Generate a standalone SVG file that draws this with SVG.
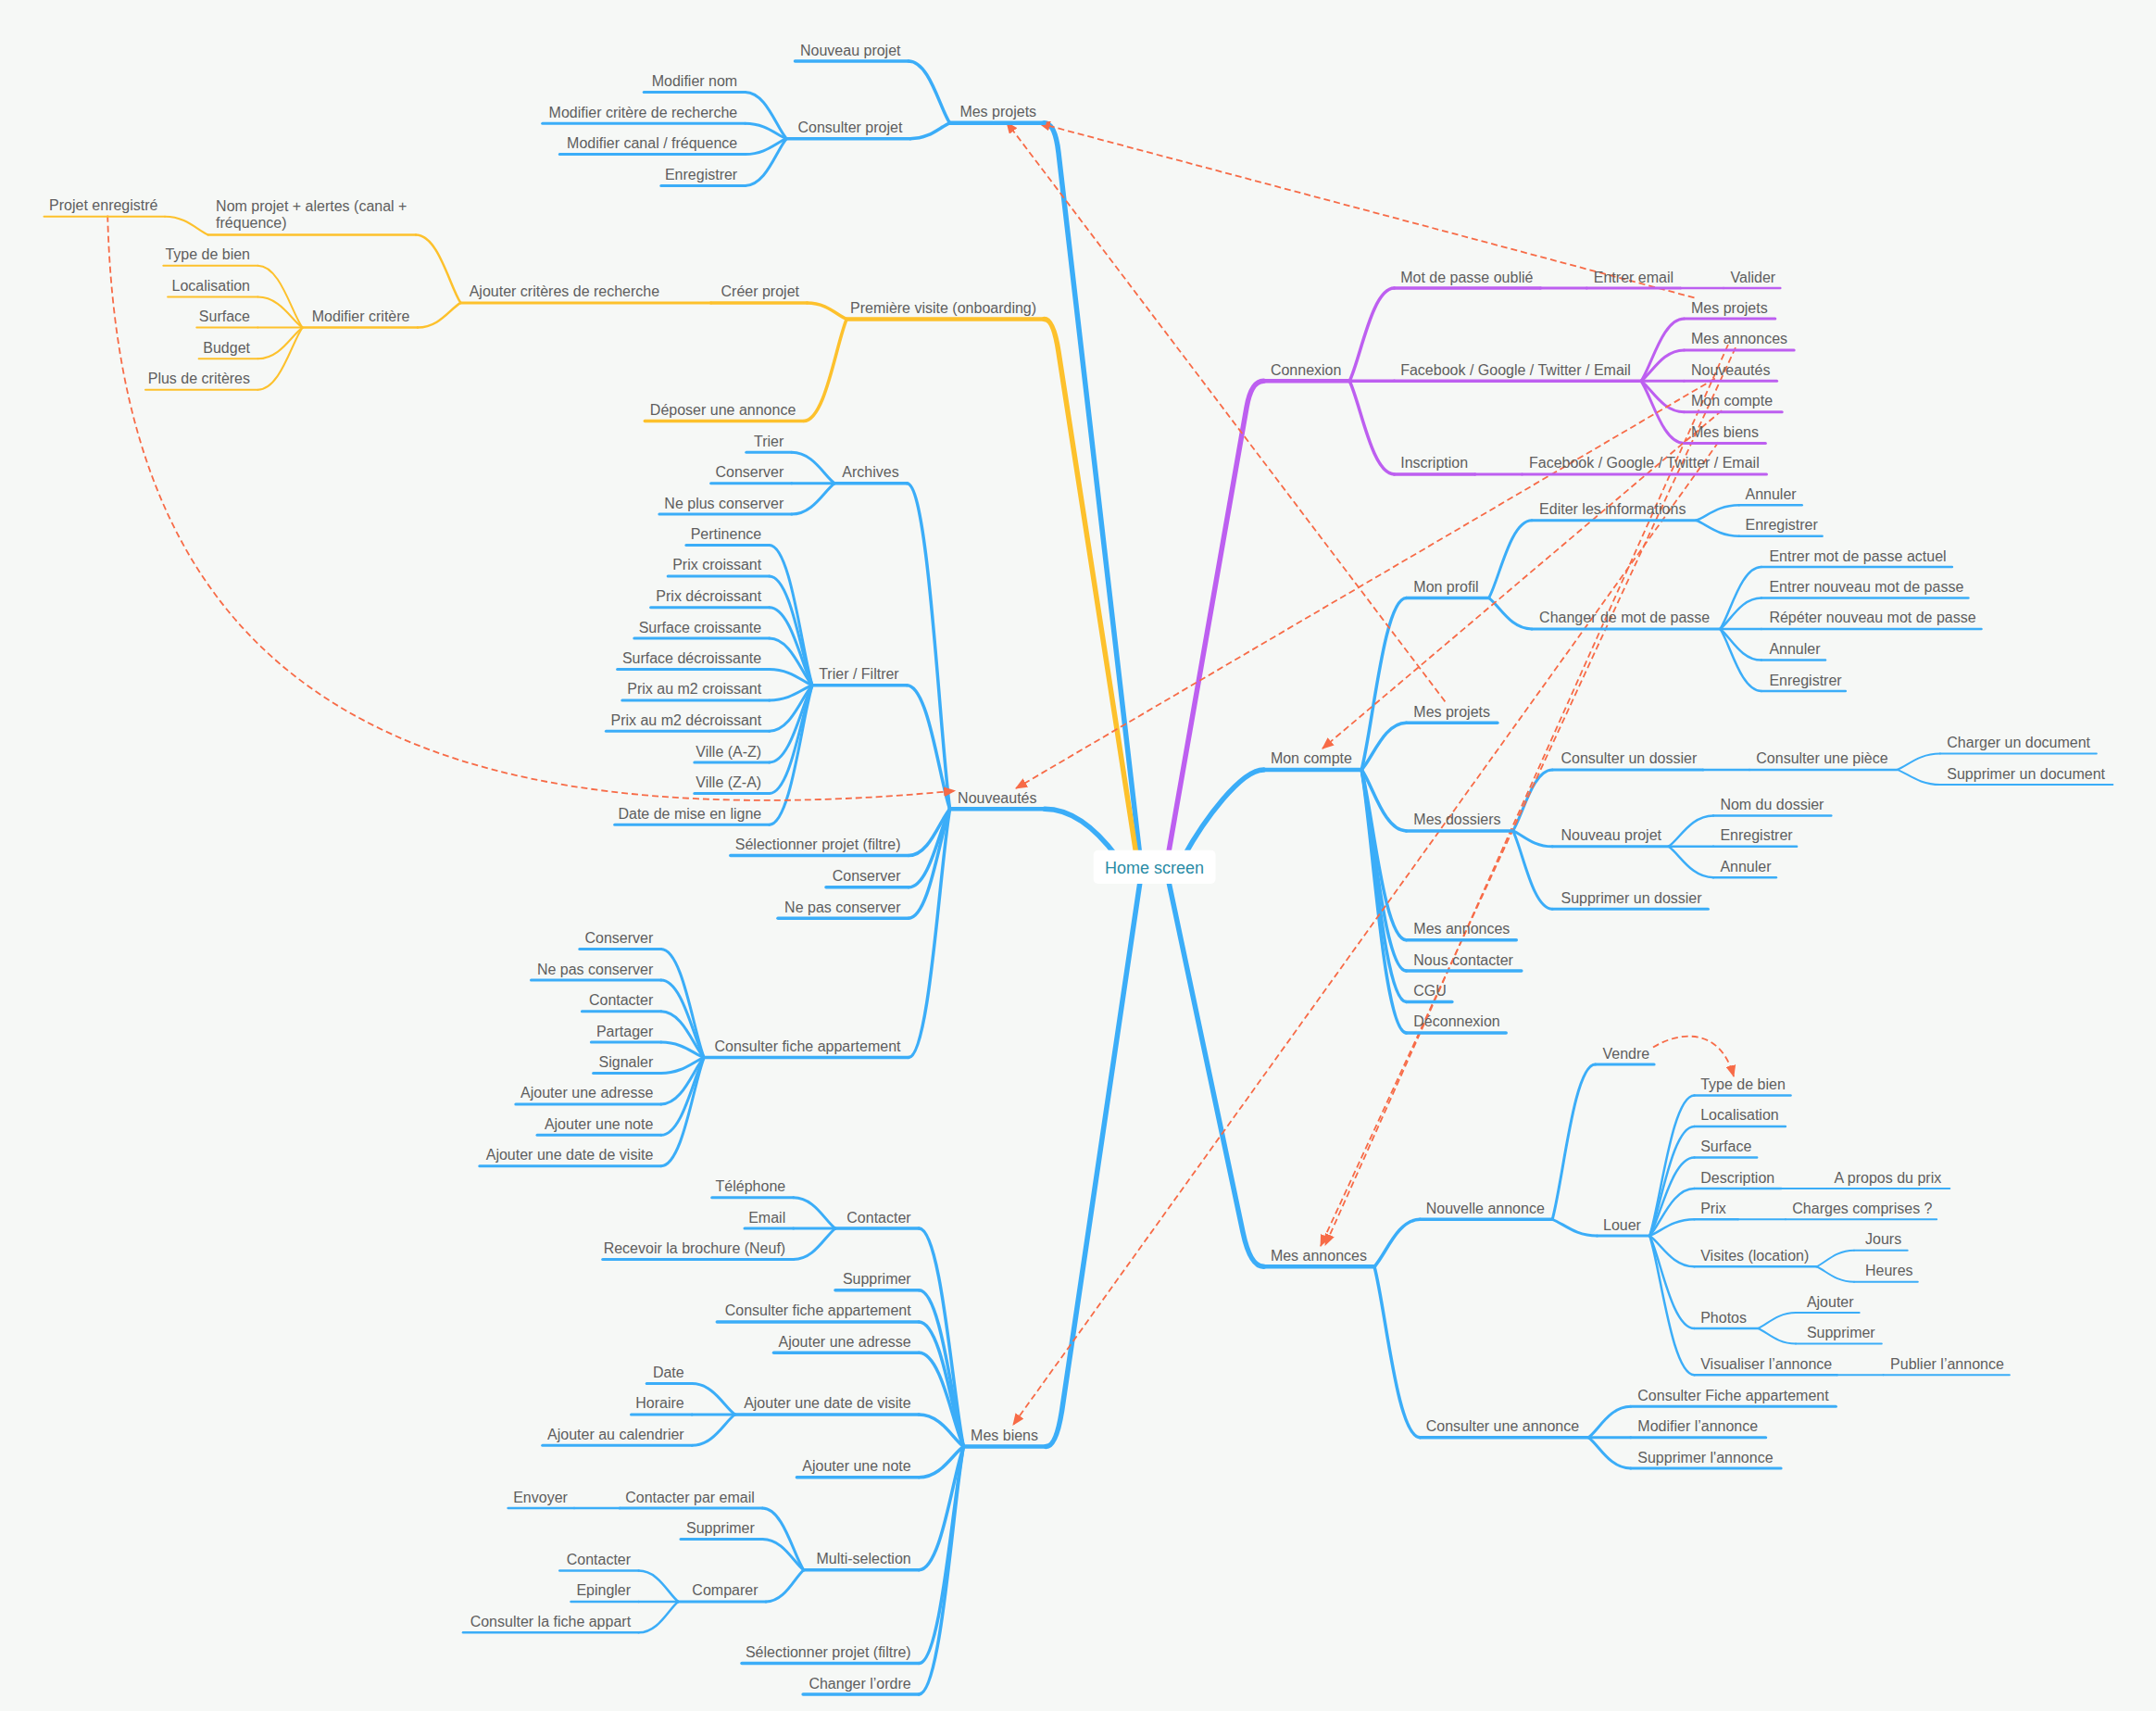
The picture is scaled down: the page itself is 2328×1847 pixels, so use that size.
<svg xmlns="http://www.w3.org/2000/svg" width="2328" height="1847" viewBox="0 0 2328 1847">
<style>
.t{font-family:"Liberation Sans",Arial,sans-serif;font-size:16px;fill:#5e5e5e}
.e{text-anchor:end}
.b,.y,.p{fill:none;stroke-linecap:round}
.b{stroke:#3badf8}.y{stroke:#fdc12c}.p{stroke:#bd5ff0}
.w0{stroke-width:5.5}.w1{stroke-width:4.5}.w2{stroke-width:3.5}.w3{stroke-width:3}.w4{stroke-width:2.5}.w5{stroke-width:2}
.d{fill:none;stroke:#f76b47;stroke-width:1.8;stroke-dasharray:7 4}
.root{font-family:"Liberation Sans",Arial,sans-serif;font-size:18px;fill:#2a8ca6;text-anchor:middle}
</style>
<defs>
<marker id="ah" viewBox="0 0 12 10" refX="11" refY="5" markerWidth="13" markerHeight="11" markerUnits="userSpaceOnUse" orient="auto"><path d="M0,0 L12,5 L0,10 z" fill="#f76b47"/></marker>
</defs>
<rect width="2328" height="1847" fill="#f6f8f6"/>

<g id="connectors">
<!-- root branches -->
<path class="b w0" d="M 1127.6 132.8 Q 1139.3 132.8 1143 165 L 1231 925"/>
<path class="y w0" d="M 1127.6 344.5 Q 1137.6 344.5 1143 380 L 1227.3 925"/>
<path class="b w0" d="M 1128 873.3 C 1155 873.3 1180 890 1206 925"/>
<path class="b w0" d="M 1129.5 1561.5 Q 1140.9 1561.5 1147 1520 L 1232 945"/>
<path class="p w0" d="M 1364.4 411.3 Q 1351 411.3 1346 440 L 1261 925"/>
<path class="b w0" d="M 1364.4 830.9 C 1340 830.9 1300 885 1278 925"/>
<path class="b w0" d="M 1364.4 1367.3 Q 1349.9 1367.3 1342 1330 L 1260.5 945"/>

<!-- Mes projets -->
<path class="b w2" d="M 981 66 C 1003.3 66 1014.5 116.1 1025.6 132.8"/>
<path class="b w2" d="M 982.9 149.7 C 1004.2 149.7 1014.9 137 1025.6 132.8"/>
<path class="b w3" d="M 804.7 99.4 C 827 99.4 838.1 137.1 849.3 149.7"/>
<path class="b w3" d="M 804.7 133.2 C 827 133.2 838.1 145.6 849.3 149.7"/>
<path class="b w3" d="M 804.7 166.6 C 827 166.6 838.1 153.9 849.3 149.7"/>
<path class="b w3" d="M 804.7 200.4 C 827 200.4 838.1 162.4 849.3 149.7"/>

<!-- Premiere visite -->
<path class="y w2" d="M 871.5 326.9 C 892.9 326.9 903.5 340.1 914.2 344.5"/>
<path class="y w2" d="M 867.8 454.5 C 891 454.5 902.6 372 914.2 344.5"/>
<path class="y w4" d="M 449 253.4 C 473.2 253.4 485.3 308.5 497.4 326.9"/>
<path class="y w4" d="M 451 353.6 C 474.2 353.6 485.8 333.6 497.4 326.9"/>
<path class="y w5" d="M 178 233.7 C 201.3 233.7 212.9 248.5 224.6 253.4"/>
<path class="y w5" d="M 278.4 286.8 C 302.5 286.8 314.55 336.9 326.6 353.6"/>
<path class="y w5" d="M 278.4 320.6 C 302.5 320.6 314.55 345.35 326.6 353.6"/>
<path class="y w5" d="M 278.4 353.6 L 326.6 353.6"/>
<path class="y w5" d="M 278.4 387.3 C 302.5 387.3 314.55 362 326.6 353.6"/>
<path class="y w5" d="M 278.4 420.7 C 302.5 420.7 314.55 370.4 326.6 353.6"/>

<!-- Nouveautes -->
<path class="b w2" d="M 979.2 521.7 C 1002.4 521.7 1014 785.4 1025.6 873.3"/>
<path class="b w2" d="M 979.2 739.7 C 1002.4 739.7 1014 839.9 1025.6 873.3"/>
<path class="b w2" d="M 981 923.6 C 1003.3 923.6 1014.45 885.9 1025.6 873.3"/>
<path class="b w2" d="M 981 957.8 C 1003.3 957.8 1014.45 894.4 1025.6 873.3"/>
<path class="b w2" d="M 981 991.2 C 1003.3 991.2 1014.45 902.8 1025.6 873.3"/>
<path class="b w2" d="M 981 1141.6 C 1003.3 1141.6 1014.45 940.4 1025.6 873.3"/>
<path class="b w3" d="M 854.8 488.3 C 878 488.3 889.6 513.35 901.2 521.7"/>
<path class="b w3" d="M 854.8 521.7 L 901.2 521.7"/>
<path class="b w3" d="M 854.8 555.1 C 878 555.1 889.6 530.05 901.2 521.7"/>
<path class="b w3" d="M 830.7 588.5 C 853.9 588.5 865.5 701.9 877.1 739.7"/>
<path class="b w3" d="M 830.7 621.9 C 853.9 621.9 865.5 710.25 877.1 739.7"/>
<path class="b w3" d="M 830.7 655.7 C 853.9 655.7 865.5 718.7 877.1 739.7"/>
<path class="b w3" d="M 830.7 689 C 853.9 689 865.5 727 877.1 739.7"/>
<path class="b w3" d="M 830.7 722.5 C 853.9 722.5 865.5 735.4 877.1 739.7"/>
<path class="b w3" d="M 830.7 755.9 C 853.9 755.9 865.5 743.75 877.1 739.7"/>
<path class="b w3" d="M 830.7 789.2 C 853.9 789.2 865.5 752.1 877.1 739.7"/>
<path class="b w3" d="M 830.7 823 C 853.9 823 865.5 760.5 877.1 739.7"/>
<path class="b w3" d="M 830.7 856.4 C 853.9 856.4 865.5 768.9 877.1 739.7"/>
<path class="b w3" d="M 830.7 890.2 C 853.9 890.2 865.5 777.3 877.1 739.7"/>
<path class="b w3" d="M 713.8 1024.6 C 737 1024.6 748.6 1112.35 760.2 1141.6"/>
<path class="b w3" d="M 713.8 1058 C 737 1058 748.6 1120.7 760.2 1141.6"/>
<path class="b w3" d="M 713.8 1091.7 C 737 1091.7 748.6 1129.1 760.2 1141.6"/>
<path class="b w3" d="M 713.8 1125.1 C 737 1125.1 748.6 1137.5 760.2 1141.6"/>
<path class="b w3" d="M 713.8 1158.5 C 737 1158.5 748.6 1145.8 760.2 1141.6"/>
<path class="b w3" d="M 713.8 1191.9 C 737 1191.9 748.6 1154.2 760.2 1141.6"/>
<path class="b w3" d="M 713.8 1225.3 C 737 1225.3 748.6 1162.5 760.2 1141.6"/>
<path class="b w3" d="M 713.8 1258.7 C 737 1258.7 748.6 1170.9 760.2 1141.6"/>

<!-- Mes biens -->
<path class="b w2" d="M 992.2 1326.1 C 1016.3 1326.1 1028.35 1502.65 1040.4 1561.5"/>
<path class="b w2" d="M 992.2 1392.8 C 1016.3 1392.8 1028.35 1519.3 1040.4 1561.5"/>
<path class="b w2" d="M 992.2 1426.9 C 1016.3 1426.9 1028.35 1527.85 1040.4 1561.5"/>
<path class="b w2" d="M 992.2 1460.3 C 1016.3 1460.3 1028.35 1536.2 1040.4 1561.5"/>
<path class="b w2" d="M 992.2 1526.9 C 1016.3 1526.9 1028.35 1552.85 1040.4 1561.5"/>
<path class="b w2" d="M 992.2 1594.8 C 1016.3 1594.8 1028.35 1569.8 1040.4 1561.5"/>
<path class="b w2" d="M 992.2 1694.8 C 1016.3 1694.8 1028.35 1594.8 1040.4 1561.5"/>
<path class="b w2" d="M 992.2 1795.6 C 1016.3 1795.6 1028.35 1620 1040.4 1561.5"/>
<path class="b w2" d="M 992.2 1829 C 1016.3 1829 1028.35 1628.4 1040.4 1561.5"/>
<path class="b w3" d="M 856.7 1292.8 C 879.35 1292.8 890.7 1317.8 902 1326.1"/>
<path class="b w3" d="M 856.7 1326.1 L 902 1326.1"/>
<path class="b w3" d="M 856.7 1359.5 C 879.35 1359.5 890.7 1334.45 902 1326.1"/>
<path class="b w3" d="M 747.2 1493.6 C 770.4 1493.6 782 1518.6 793.6 1526.9"/>
<path class="b w3" d="M 747.2 1526.9 L 793.6 1526.9"/>
<path class="b w3" d="M 747.2 1560.3 C 770.4 1560.3 782 1535.25 793.6 1526.9"/>
<path class="b w3" d="M 823.3 1628.1 C 845.55 1628.1 856.7 1678.1 867.8 1694.8"/>
<path class="b w3" d="M 823.3 1661.5 C 845.55 1661.5 856.7 1686.5 867.8 1694.8"/>
<path class="b w3" d="M 827 1728.9 C 847.4 1728.9 857.6 1703.3 867.8 1694.8"/>
<path class="b w4" d="M 689.6 1695.6 C 711 1695.6 721.6 1720.6 732.3 1728.9"/>
<path class="b w4" d="M 689.6 1728.9 L 732.3 1728.9"/>
<path class="b w4" d="M 689.6 1762.3 C 711 1762.3 721.6 1737.25 732.3 1728.9"/>
<path class="b w4" d="M 620 1628.1 L 669.2 1628.1"/>

<!-- Connexion -->
<path class="p w2" d="M 1457.2 411.3 C 1469.3 386.25 1481.35 311.1 1505.5 311.1"/>
<path class="p w2" d="M 1457.2 411.3 L 1505.5 411.3"/>
<path class="p w2" d="M 1457.2 411.3 C 1469.3 436.45 1481.35 511.9 1505.5 511.9"/>
<path class="p w3" d="M 1663.3 311.1 L 1713.3 311.1"/>
<path class="p w4" d="M 1814.5 311.1 L 1861 311.1"/>
<path class="p w3" d="M 1592.7 511.9 L 1643.5 511.9"/>
<path class="p w3" d="M 1772 411.3 C 1783.6 394.5 1795.2 344.1 1818.4 344.1"/>
<path class="p w3" d="M 1772 411.3 C 1783.6 402.95 1795.2 377.9 1818.4 377.9"/>
<path class="p w3" d="M 1772 411.3 L 1818.4 411.3"/>
<path class="p w3" d="M 1772 411.3 C 1783.6 419.65 1795.2 444.7 1818.4 444.7"/>
<path class="p w3" d="M 1772 411.3 C 1783.6 428.1 1795.2 478.5 1818.4 478.5"/>

<!-- Mon compte -->
<path class="b w2" d="M 1470.2 830.9 C 1482.3 784.55 1494.35 645.5 1518.5 645.5"/>
<path class="b w2" d="M 1470.2 830.9 C 1482.3 818.2 1494.35 780.2 1518.5 780.2"/>
<path class="b w2" d="M 1470.2 830.9 C 1482.3 847.4 1494.35 896.9 1518.5 896.9"/>
<path class="b w2" d="M 1470.2 830.9 C 1482.3 876.85 1494.35 1014.7 1518.5 1014.7"/>
<path class="b w2" d="M 1470.2 830.9 C 1482.3 885.2 1494.35 1048.1 1518.5 1048.1"/>
<path class="b w2" d="M 1470.2 830.9 C 1482.3 893.55 1494.35 1081.5 1518.5 1081.5"/>
<path class="b w2" d="M 1470.2 830.9 C 1482.3 901.9 1494.35 1114.9 1518.5 1114.9"/>
<path class="b w3" d="M 1607.6 645.5 C 1619.2 624.6 1630.8 561.8 1654 561.8"/>
<path class="b w3" d="M 1607.6 645.5 C 1619.2 653.85 1630.8 678.9 1654 678.9"/>
<path class="b w4" d="M 1831.4 561.8 C 1843 557.7 1854.6 545.3 1877.8 545.3"/>
<path class="b w4" d="M 1831.4 561.8 C 1843 566 1854.6 578.7 1877.8 578.7"/>
<path class="b w4" d="M 1857.4 678.9 C 1868.5 662.2 1879.65 612.1 1901.9 612.1"/>
<path class="b w4" d="M 1857.4 678.9 C 1868.5 670.55 1879.65 645.5 1901.9 645.5"/>
<path class="b w4" d="M 1857.4 678.9 L 1901.9 678.9"/>
<path class="b w4" d="M 1857.4 678.9 C 1868.5 687.3 1879.65 712.6 1901.9 712.6"/>
<path class="b w4" d="M 1857.4 678.9 C 1868.5 695.7 1879.65 746 1901.9 746"/>
<path class="b w3" d="M 1633.6 896.9 C 1644.25 880.4 1654.9 830.9 1676.2 830.9"/>
<path class="b w3" d="M 1633.6 896.9 C 1644.25 901.1 1654.9 913.8 1676.2 913.8"/>
<path class="b w3" d="M 1633.6 896.9 C 1644.25 918 1654.9 981.3 1676.2 981.3"/>
<path class="b w4" d="M 1838.8 830.9 L 1889 830.9"/>
<path class="b w5" d="M 2048.5 830.9 C 2060.1 826.6 2071.7 813.6 2094.9 813.6"/>
<path class="b w5" d="M 2048.5 830.9 C 2060.1 834.9 2071.7 847 2094.9 847"/>
<path class="b w4" d="M 1801.7 913.8 C 1813.8 905.45 1825.85 880.4 1850 880.4"/>
<path class="b w4" d="M 1801.7 913.8 L 1850 913.8"/>
<path class="b w4" d="M 1801.7 913.8 C 1813.8 922.15 1825.85 947.2 1850 947.2"/>

<!-- Mes annonces -->
<path class="b w2" d="M 1484 1367.3 C 1496.3 1354.55 1508.65 1316.3 1533.3 1316.3"/>
<path class="b w2" d="M 1484 1367.3 C 1496.3 1413.4 1508.65 1551.7 1533.3 1551.7"/>
<path class="b w3" d="M 1676.2 1316.3 C 1687.8 1274.5 1699.4 1149.1 1722.6 1149.1"/>
<path class="b w3" d="M 1676.2 1316.3 C 1688.3 1320.7 1700.35 1334 1724.5 1334"/>
<path class="b w4" d="M 1781.3 1334 C 1793.35 1296.1 1805.4 1182.5 1829.5 1182.5"/>
<path class="b w4" d="M 1781.3 1334 C 1793.35 1304.5 1805.4 1215.9 1829.5 1215.9"/>
<path class="b w4" d="M 1781.3 1334 C 1793.35 1312.9 1805.4 1249.6 1829.5 1249.6"/>
<path class="b w4" d="M 1781.3 1334 C 1793.35 1321.25 1805.4 1283 1829.5 1283"/>
<path class="b w4" d="M 1781.3 1334 C 1793.35 1329.6 1805.4 1316.3 1829.5 1316.3"/>
<path class="b w4" d="M 1781.3 1334 C 1793.35 1342.3 1805.4 1367.3 1829.5 1367.3"/>
<path class="b w4" d="M 1781.3 1334 C 1793.35 1359 1805.4 1434 1829.5 1434"/>
<path class="b w4" d="M 1781.3 1334 C 1793.35 1371.55 1805.4 1484.2 1829.5 1484.2"/>
<path class="b w5" d="M 1923.4 1283 L 1973 1283"/>
<path class="b w5" d="M 1876.7 1316.3 L 1928 1316.3"/>
<path class="b w5" d="M 1983.6 1484.2 L 2033.6 1484.2"/>
<path class="b w5" d="M 1961.3 1367.3 C 1971.5 1362.9 1981.65 1349.7 2002 1349.7"/>
<path class="b w5" d="M 1961.3 1367.3 C 1971.5 1371.4 1981.65 1383.8 2002 1383.8"/>
<path class="b w5" d="M 1898.2 1434 C 1908.4 1429.8 1918.6 1417.1 1939 1417.1"/>
<path class="b w5" d="M 1898.2 1434 C 1908.4 1438.1 1918.6 1450.5 1939 1450.5"/>
<path class="b w3" d="M 1715.2 1551.7 C 1726.6 1543.35 1738 1518.3 1760.8 1518.3"/>
<path class="b w3" d="M 1715.2 1551.7 L 1760.8 1551.7"/>
<path class="b w3" d="M 1715.2 1551.7 C 1726.6 1560 1738 1585 1760.8 1585"/>

<!-- cross links -->
<path class="d" d="M 1829.5 321.4 L 1122 133" marker-end="url(#ah)"/>
<path class="d" d="M 1560.4 757.4 L 1087 132" marker-end="url(#ah)"/>
<path class="d" d="M 1851.8 408.6 L 1097 851" marker-end="url(#ah)"/>
<path class="d" d="M 1859.2 443.1 L 1428 808" marker-end="url(#ah)"/>
<path class="d" d="M 1874 375.2 L 1426 1345" marker-end="url(#ah)"/>
<path class="d" d="M 1866 372 L 1431 1344" marker-end="url(#ah)"/>
<path class="d" d="M 1855.5 477.3 L 1094 1538" marker-end="url(#ah)"/>
<path class="d" d="M 116.2 232.6 C 128 700 380 915 1031 853.7" marker-end="url(#ah)"/>
<path class="d" d="M 1785 1130.6 C 1815 1112 1858 1110 1872 1162" marker-end="url(#ah)"/>
</g>

<g id="root">
<rect x="1180.7" y="917.7" width="131.8" height="36.2" rx="5" fill="#ffffff"/>
<text class="root" x="1246.6" y="943">Home screen</text>
</g>

<!-- Left: Mes projets -->
<g id="n-mes-projets"><path class="b w1" d="M1025.6 132.8H1127.6"/><text class="t e" x="1119.1" y="126.3">Mes projets</text></g>
<g id="n-nouveau-projet"><path class="b w2" d="M858.5 66H981"/><text class="t e" x="972.5" y="59.5">Nouveau projet</text></g>
<g id="n-consulter-projet"><path class="b w2" d="M849.3 149.7H982.9"/><text class="t e" x="974.4" y="143.2">Consulter projet</text></g>
<g id="n-modifier-nom"><path class="b w3" d="M695.2 99.4H804.7"/><text class="t e" x="796.2" y="92.9">Modifier nom</text></g>
<g id="n-modifier-critere-recherche"><path class="b w3" d="M585.7 133.2H804.7"/><text class="t e" x="796.2" y="126.7">Modifier critère de recherche</text></g>
<g id="n-modifier-canal"><path class="b w3" d="M604.3 166.6H804.7"/><text class="t e" x="796.2" y="160.1">Modifier canal / fréquence</text></g>
<g id="n-enregistrer-projet"><path class="b w3" d="M713.8 200.4H804.7"/><text class="t e" x="796.2" y="193.9">Enregistrer</text></g>

<!-- Left: Premiere visite -->
<g id="n-premiere-visite"><path class="y w1" d="M914.2 344.5H1127.6"/><text class="t e" x="1119.1" y="338">Première visite (onboarding)</text></g>
<g id="n-creer-projet"><path class="y w2" d="M767.6 326.9H871.5"/><text class="t e" x="863" y="320.4">Créer projet</text></g>
<g id="n-deposer"><path class="y w2" d="M696.3 454.5H867.8"/><text class="t e" x="859.3" y="448">Déposer une annonce</text></g>
<g id="n-ajouter-criteres"><path class="y w3" d="M497.4 326.9H767.6"/><text class="t" x="506.7" y="320.4">Ajouter critères de recherche</text></g>
<g id="n-nom-projet"><path class="y w4" d="M224.6 253.4H449"/><text class="t" x="233.1" y="227.5">Nom projet + alertes (canal +</text><text class="t" x="233.1" y="246">fréquence)</text></g>
<g id="n-projet-enregistre"><path class="y w5" d="M47.5 233.7H178"/><text class="t" x="53.1" y="227.2">Projet enregistré</text></g>
<g id="n-modifier-critere"><path class="y w4" d="M326.6 353.6H451"/><text class="t e" x="442.5" y="347.1">Modifier critère</text></g>
<g id="n-type-bien-1"><path class="y w5" d="M176.3 286.8H278.4"/><text class="t e" x="270" y="280.3">Type de bien</text></g>
<g id="n-localisation-1"><path class="y w5" d="M181.1 320.6H278.4"/><text class="t e" x="270" y="314.1">Localisation</text></g>
<g id="n-surface-1"><path class="y w5" d="M212.3 353.6H278.4"/><text class="t e" x="270" y="347.1">Surface</text></g>
<g id="n-budget"><path class="y w5" d="M214.6 387.3H278.4"/><text class="t e" x="270" y="380.8">Budget</text></g>
<g id="n-plus-criteres"><path class="y w5" d="M157 420.7H278.4"/><text class="t e" x="270" y="414.2">Plus de critères</text></g>

<!-- Left: Nouveautes -->
<g id="n-nouveautes"><path class="b w1" d="M1025.6 873.3H1128"/><text class="t e" x="1119.5" y="866.8">Nouveautés</text></g>
<g id="n-archives"><path class="b w2" d="M901.2 521.7H979.2"/><text class="t e" x="970.7" y="515.2">Archives</text></g>
<g id="n-trier"><path class="b w3" d="M805.8 488.3H854.8"/><text class="t e" x="846.3" y="481.8">Trier</text></g>
<g id="n-conserver-a"><path class="b w3" d="M767.6 521.7H854.8"/><text class="t e" x="846.3" y="515.2">Conserver</text></g>
<g id="n-ne-plus-conserver"><path class="b w3" d="M711.9 555.1H854.8"/><text class="t e" x="846.3" y="548.6">Ne plus conserver</text></g>
<g id="n-trier-filtrer"><path class="b w2" d="M877.1 739.7H979.2"/><text class="t e" x="970.7" y="733.2">Trier / Filtrer</text></g>
<g id="n-pertinence"><path class="b w3" d="M740.9 588.5H830.7"/><text class="t e" x="822.2" y="582">Pertinence</text></g>
<g id="n-prix-croissant"><path class="b w3" d="M721.2 621.9H830.7"/><text class="t e" x="822.2" y="615.4">Prix croissant</text></g>
<g id="n-prix-decroissant"><path class="b w3" d="M702.6 655.7H830.7"/><text class="t e" x="822.2" y="649.2">Prix décroissant</text></g>
<g id="n-surface-croissante"><path class="b w3" d="M684.8 689H830.7"/><text class="t e" x="822.2" y="682.5">Surface croissante</text></g>
<g id="n-surface-decroissante"><path class="b w3" d="M666.6 722.5H830.7"/><text class="t e" x="822.2" y="716">Surface décroissante</text></g>
<g id="n-prix-m2-croissant"><path class="b w3" d="M671.8 755.9H830.7"/><text class="t e" x="822.2" y="749.4">Prix au m2 croissant</text></g>
<g id="n-prix-m2-decroissant"><path class="b w3" d="M654.4 789.2H830.7"/><text class="t e" x="822.2" y="782.7">Prix au m2 décroissant</text></g>
<g id="n-ville-az"><path class="b w3" d="M749.8 823H830.7"/><text class="t e" x="822.2" y="816.5">Ville (A-Z)</text></g>
<g id="n-ville-za"><path class="b w3" d="M749.8 856.4H830.7"/><text class="t e" x="822.2" y="849.9">Ville (Z-A)</text></g>
<g id="n-date-mise-en-ligne"><path class="b w3" d="M663.7 890.2H830.7"/><text class="t e" x="822.2" y="883.7">Date de mise en ligne</text></g>
<g id="n-selectionner-projet-1"><path class="b w2" d="M788.8 923.6H981"/><text class="t e" x="972.5" y="917.1">Sélectionner projet (filtre)</text></g>
<g id="n-conserver-n"><path class="b w2" d="M892 957.8H981"/><text class="t e" x="972.5" y="951.3">Conserver</text></g>
<g id="n-ne-pas-conserver-n"><path class="b w2" d="M840 991.2H981"/><text class="t e" x="972.5" y="984.7">Ne pas conserver</text></g>
<g id="n-consulter-fiche-1"><path class="b w2" d="M760.2 1141.6H981"/><text class="t e" x="972.5" y="1135.1">Consulter fiche appartement</text></g>
<g id="n-fiche-conserver"><path class="b w3" d="M625.8 1024.6H713.8"/><text class="t e" x="705.3" y="1018.1">Conserver</text></g>
<g id="n-fiche-ne-pas-conserver"><path class="b w3" d="M573.5 1058H713.8"/><text class="t e" x="705.3" y="1051.5">Ne pas conserver</text></g>
<g id="n-fiche-contacter"><path class="b w3" d="M628.4 1091.7H713.8"/><text class="t e" x="705.3" y="1085.2">Contacter</text></g>
<g id="n-fiche-partager"><path class="b w3" d="M638.4 1125.1H713.8"/><text class="t e" x="705.3" y="1118.6">Partager</text></g>
<g id="n-fiche-signaler"><path class="b w3" d="M640.6 1158.5H713.8"/><text class="t e" x="705.3" y="1152">Signaler</text></g>
<g id="n-fiche-adresse"><path class="b w3" d="M556.8 1191.9H713.8"/><text class="t e" x="705.3" y="1185.4">Ajouter une adresse</text></g>
<g id="n-fiche-note"><path class="b w3" d="M580 1225.3H713.8"/><text class="t e" x="705.3" y="1218.8">Ajouter une note</text></g>
<g id="n-fiche-date-visite"><path class="b w3" d="M517.8 1258.7H713.8"/><text class="t e" x="705.3" y="1252.2">Ajouter une date de visite</text></g>

<!-- Left: Mes biens -->
<g id="n-mes-biens"><path class="b w1" d="M1040.4 1561.5H1129.5"/><text class="t e" x="1121" y="1555">Mes biens</text></g>
<g id="n-mb-contacter"><path class="b w2" d="M902 1326.1H992.2"/><text class="t e" x="983.7" y="1319.6">Contacter</text></g>
<g id="n-mb-supprimer"><path class="b w2" d="M902 1392.8H992.2"/><text class="t e" x="983.7" y="1386.3">Supprimer</text></g>
<g id="n-mb-fiche"><path class="b w2" d="M774.3 1426.9H992.2"/><text class="t e" x="983.7" y="1420.4">Consulter fiche appartement</text></g>
<g id="n-mb-adresse"><path class="b w2" d="M835.5 1460.3H992.2"/><text class="t e" x="983.7" y="1453.8">Ajouter une adresse</text></g>
<g id="n-mb-date-visite"><path class="b w2" d="M793.6 1526.9H992.2"/><text class="t e" x="983.7" y="1520.4">Ajouter une date de visite</text></g>
<g id="n-mb-note"><path class="b w2" d="M860.4 1594.8H992.2"/><text class="t e" x="983.7" y="1588.3">Ajouter une note</text></g>
<g id="n-mb-multi"><path class="b w2" d="M867.8 1694.8H992.2"/><text class="t e" x="983.7" y="1688.3">Multi-selection</text></g>
<g id="n-mb-selectionner"><path class="b w2" d="M801 1795.6H992.2"/><text class="t e" x="983.7" y="1789.1">Sélectionner projet (filtre)</text></g>
<g id="n-mb-ordre"><path class="b w2" d="M867.1 1829H992.2"/><text class="t e" x="983.7" y="1822.5">Changer l’ordre</text></g>
<g id="n-telephone"><path class="b w3" d="M768.7 1292.8H856.7"/><text class="t e" x="848.2" y="1286.3">Téléphone</text></g>
<g id="n-email"><path class="b w3" d="M804 1326.1H856.7"/><text class="t e" x="848.2" y="1319.6">Email</text></g>
<g id="n-brochure"><path class="b w3" d="M650.7 1359.5H856.7"/><text class="t e" x="848.2" y="1353">Recevoir la brochure (Neuf)</text></g>
<g id="n-date"><path class="b w3" d="M698.2 1493.6H747.2"/><text class="t e" x="738.7" y="1487.1">Date</text></g>
<g id="n-horaire"><path class="b w3" d="M681.5 1526.9H747.2"/><text class="t e" x="738.7" y="1520.4">Horaire</text></g>
<g id="n-calendrier"><path class="b w3" d="M585.7 1560.3H747.2"/><text class="t e" x="738.7" y="1553.8">Ajouter au calendrier</text></g>
<g id="n-contacter-email"><path class="b w3" d="M669.2 1628.1H823.3"/><text class="t e" x="814.8" y="1621.6">Contacter par email</text></g>
<g id="n-envoyer"><path class="b w4" d="M548.6 1628.1H620"/><text class="t e" x="612.9" y="1621.6">Envoyer</text></g>
<g id="n-multi-supprimer"><path class="b w3" d="M735 1661.5H823.3"/><text class="t e" x="814.8" y="1655">Supprimer</text></g>
<g id="n-comparer"><path class="b w3" d="M732.3 1728.9H827"/><text class="t e" x="818.5" y="1722.4">Comparer</text></g>
<g id="n-comp-contacter"><path class="b w4" d="M604.3 1695.6H689.6"/><text class="t e" x="681.1" y="1689.1">Contacter</text></g>
<g id="n-comp-epingler"><path class="b w4" d="M616.5 1728.9H689.6"/><text class="t e" x="681.1" y="1722.4">Epingler</text></g>
<g id="n-comp-fiche"><path class="b w4" d="M500 1762.3H689.6"/><text class="t e" x="681.1" y="1755.8">Consulter la fiche appart</text></g>

<!-- Right: Connexion -->
<g id="n-connexion"><path class="p w1" d="M1364.4 411.3H1457.2"/><text class="t" x="1371.9" y="404.8">Connexion</text></g>
<g id="n-mdp-oublie"><path class="p w2" d="M1505.5 311.1H1663.3"/><text class="t" x="1512.2" y="304.6">Mot de passe oublié</text></g>
<g id="n-entrer-email"><path class="p w3" d="M1713.3 311.1H1814.5"/><text class="t" x="1720.8" y="304.6">Entrer email</text></g>
<g id="n-valider"><path class="p w4" d="M1861 311.1H1922.3"/><text class="t" x="1868.5" y="304.6">Valider</text></g>
<g id="n-fb-connexion"><path class="p w2" d="M1505.5 411.3H1772"/><text class="t" x="1512.2" y="404.8">Facebook / Google / Twitter / Email</text></g>
<g id="n-c-mes-projets"><path class="p w3" d="M1818.4 344.1H1916.8"/><text class="t" x="1826" y="337.6">Mes projets</text></g>
<g id="n-c-mes-annonces"><path class="p w3" d="M1818.4 377.9H1937.2"/><text class="t" x="1826" y="371.4">Mes annonces</text></g>
<g id="n-c-nouveautes"><path class="p w3" d="M1818.4 411.3H1918.6"/><text class="t" x="1826" y="404.8">Nouveautés</text></g>
<g id="n-c-mon-compte"><path class="p w3" d="M1818.4 444.7H1924.2"/><text class="t" x="1826" y="438.2">Mon compte</text></g>
<g id="n-c-mes-biens"><path class="p w3" d="M1818.4 478.5H1906.4"/><text class="t" x="1826" y="472">Mes biens</text></g>
<g id="n-inscription"><path class="p w2" d="M1505.5 511.9H1592.7"/><text class="t" x="1512.2" y="505.4">Inscription</text></g>
<g id="n-fb-inscription"><path class="p w3" d="M1643.5 511.9H1907.5"/><text class="t" x="1651" y="505.4">Facebook / Google / Twitter / Email</text></g>

<!-- Right: Mon compte -->
<g id="n-mon-compte"><path class="b w1" d="M1364.4 830.9H1470.2"/><text class="t" x="1371.9" y="824.4">Mon compte</text></g>
<g id="n-mon-profil"><path class="b w2" d="M1518.5 645.5H1607.6"/><text class="t" x="1526.3" y="639">Mon profil</text></g>
<g id="n-mc-mes-projets"><path class="b w2" d="M1518.5 780.2H1616.9"/><text class="t" x="1526.3" y="773.7">Mes projets</text></g>
<g id="n-mes-dossiers"><path class="b w2" d="M1518.5 896.9H1633.6"/><text class="t" x="1526.3" y="890.4">Mes dossiers</text></g>
<g id="n-mc-mes-annonces"><path class="b w2" d="M1518.5 1014.7H1637.3"/><text class="t" x="1526.3" y="1008.2">Mes annonces</text></g>
<g id="n-nous-contacter"><path class="b w2" d="M1518.5 1048.1H1642.8"/><text class="t" x="1526.3" y="1041.6">Nous contacter</text></g>
<g id="n-cgu"><path class="b w2" d="M1518.5 1081.5H1567.9"/><text class="t" x="1526.3" y="1075">CGU</text></g>
<g id="n-deconnexion"><path class="b w2" d="M1518.5 1114.9H1626.2"/><text class="t" x="1526.3" y="1108.4">Déconnexion</text></g>
<g id="n-editer-infos"><path class="b w3" d="M1654 561.8H1831.4"/><text class="t" x="1662.1" y="555.3">Editer les informations</text></g>
<g id="n-ed-annuler"><path class="b w4" d="M1877.8 545.3H1945.7"/><text class="t" x="1884.5" y="538.8">Annuler</text></g>
<g id="n-ed-enregistrer"><path class="b w4" d="M1877.8 578.7H1967.6"/><text class="t" x="1884.5" y="572.2">Enregistrer</text></g>
<g id="n-changer-mdp"><path class="b w3" d="M1654 678.9H1857.4"/><text class="t" x="1662.1" y="672.4">Changer de mot de passe</text></g>
<g id="n-mdp-actuel"><path class="b w4" d="M1901.9 612.1H2107.9"/><text class="t" x="1910.4" y="605.6">Entrer mot de passe actuel</text></g>
<g id="n-mdp-nouveau"><path class="b w4" d="M1901.9 645.5H2125.4"/><text class="t" x="1910.4" y="639">Entrer nouveau mot de passe</text></g>
<g id="n-mdp-repeter"><path class="b w4" d="M1901.9 678.9H2139.5"/><text class="t" x="1910.4" y="672.4">Répéter nouveau mot de passe</text></g>
<g id="n-mdp-annuler"><path class="b w4" d="M1901.9 712.6H1971"/><text class="t" x="1910.4" y="706.1">Annuler</text></g>
<g id="n-mdp-enregistrer"><path class="b w4" d="M1901.9 746H1992.8"/><text class="t" x="1910.4" y="739.5">Enregistrer</text></g>
<g id="n-consulter-dossier"><path class="b w3" d="M1676.2 830.9H1838.8"/><text class="t" x="1685.5" y="824.4">Consulter un dossier</text></g>
<g id="n-consulter-piece"><path class="b w4" d="M1889 830.9H2048.5"/><text class="t" x="1896.3" y="824.4">Consulter une pièce</text></g>
<g id="n-charger-doc"><path class="b w5" d="M2094.9 813.6H2263.8"/><text class="t" x="2102.3" y="807.1">Charger un document</text></g>
<g id="n-supprimer-doc"><path class="b w5" d="M2094.9 847H2281.3"/><text class="t" x="2102.3" y="840.5">Supprimer un document</text></g>
<g id="n-dossier-nouveau-projet"><path class="b w3" d="M1676.2 913.8H1801.7"/><text class="t" x="1685.5" y="907.3">Nouveau projet</text></g>
<g id="n-nom-dossier"><path class="b w4" d="M1850 880.4H1977.3"/><text class="t" x="1857.4" y="873.9">Nom du dossier</text></g>
<g id="n-np-enregistrer"><path class="b w4" d="M1850 913.8H1940.1"/><text class="t" x="1857.4" y="907.3">Enregistrer</text></g>
<g id="n-np-annuler"><path class="b w4" d="M1850 947.2H1917.9"/><text class="t" x="1857.4" y="940.7">Annuler</text></g>
<g id="n-supprimer-dossier"><path class="b w3" d="M1676.2 981.3H1844.4"/><text class="t" x="1685.5" y="974.8">Supprimer un dossier</text></g>

<!-- Right: Mes annonces -->
<g id="n-mes-annonces"><path class="b w1" d="M1364.4 1367.3H1484"/><text class="t" x="1371.9" y="1360.8">Mes annonces</text></g>
<g id="n-nouvelle-annonce"><path class="b w2" d="M1533.3 1316.3H1676.2"/><text class="t" x="1539.7" y="1309.8">Nouvelle annonce</text></g>
<g id="n-vendre"><path class="b w3" d="M1722.6 1149.1H1786.1"/><text class="t" x="1730.5" y="1142.6">Vendre</text></g>
<g id="n-louer"><path class="b w3" d="M1724.5 1334H1781.3"/><text class="t" x="1731" y="1327.5">Louer</text></g>
<g id="n-l-type-bien"><path class="b w4" d="M1829.5 1182.5H1933.5"/><text class="t" x="1836.2" y="1176">Type de bien</text></g>
<g id="n-l-localisation"><path class="b w4" d="M1829.5 1215.9H1927.9"/><text class="t" x="1836.2" y="1209.4">Localisation</text></g>
<g id="n-l-surface"><path class="b w4" d="M1829.5 1249.6H1897.1"/><text class="t" x="1836.2" y="1243.1">Surface</text></g>
<g id="n-l-description"><path class="b w4" d="M1829.5 1283H1923.4"/><text class="t" x="1836.2" y="1276.5">Description</text></g>
<g id="n-a-propos-prix"><path class="b w5" d="M1973 1283H2105.3"/><text class="t" x="1980.6" y="1276.5">A propos du prix</text></g>
<g id="n-l-prix"><path class="b w4" d="M1829.5 1316.3H1876.7"/><text class="t" x="1836.2" y="1309.8">Prix</text></g>
<g id="n-charges"><path class="b w5" d="M1928 1316.3H2091.2"/><text class="t" x="1935.3" y="1309.8">Charges comprises ?</text></g>
<g id="n-l-visites"><path class="b w4" d="M1829.5 1367.3H1961.3"/><text class="t" x="1836.2" y="1360.8">Visites (location)</text></g>
<g id="n-jours"><path class="b w5" d="M2002 1349.7H2059.7"/><text class="t" x="2014" y="1343.2">Jours</text></g>
<g id="n-heures"><path class="b w5" d="M2002 1383.8H2070.8"/><text class="t" x="2014" y="1377.3">Heures</text></g>
<g id="n-l-photos"><path class="b w4" d="M1829.5 1434H1898.2"/><text class="t" x="1836.2" y="1427.5">Photos</text></g>
<g id="n-ph-ajouter"><path class="b w5" d="M1939 1417.1H2007.7"/><text class="t" x="1950.9" y="1410.6">Ajouter</text></g>
<g id="n-ph-supprimer"><path class="b w5" d="M1939 1450.5H2031.8"/><text class="t" x="1950.9" y="1444">Supprimer</text></g>
<g id="n-l-visualiser"><path class="b w4" d="M1829.5 1484.2H1983.6"/><text class="t" x="1836.2" y="1477.7">Visualiser l’annonce</text></g>
<g id="n-publier"><path class="b w5" d="M2033.6 1484.2H2169.9"/><text class="t" x="2041.1" y="1477.7">Publier l’annonce</text></g>
<g id="n-consulter-annonce"><path class="b w2" d="M1533.3 1551.7H1715.2"/><text class="t" x="1539.7" y="1545.2">Consulter une annonce</text></g>
<g id="n-ca-fiche"><path class="b w3" d="M1760.8 1518.3H1982.4"/><text class="t" x="1768.3" y="1511.8">Consulter Fiche appartement</text></g>
<g id="n-ca-modifier"><path class="b w3" d="M1760.8 1551.7H1906.7"/><text class="t" x="1768.3" y="1545.2">Modifier l’annonce</text></g>
<g id="n-ca-supprimer"><path class="b w3" d="M1760.8 1585H1923.1"/><text class="t" x="1768.3" y="1578.5">Supprimer l'annonce</text></g>
</svg>
